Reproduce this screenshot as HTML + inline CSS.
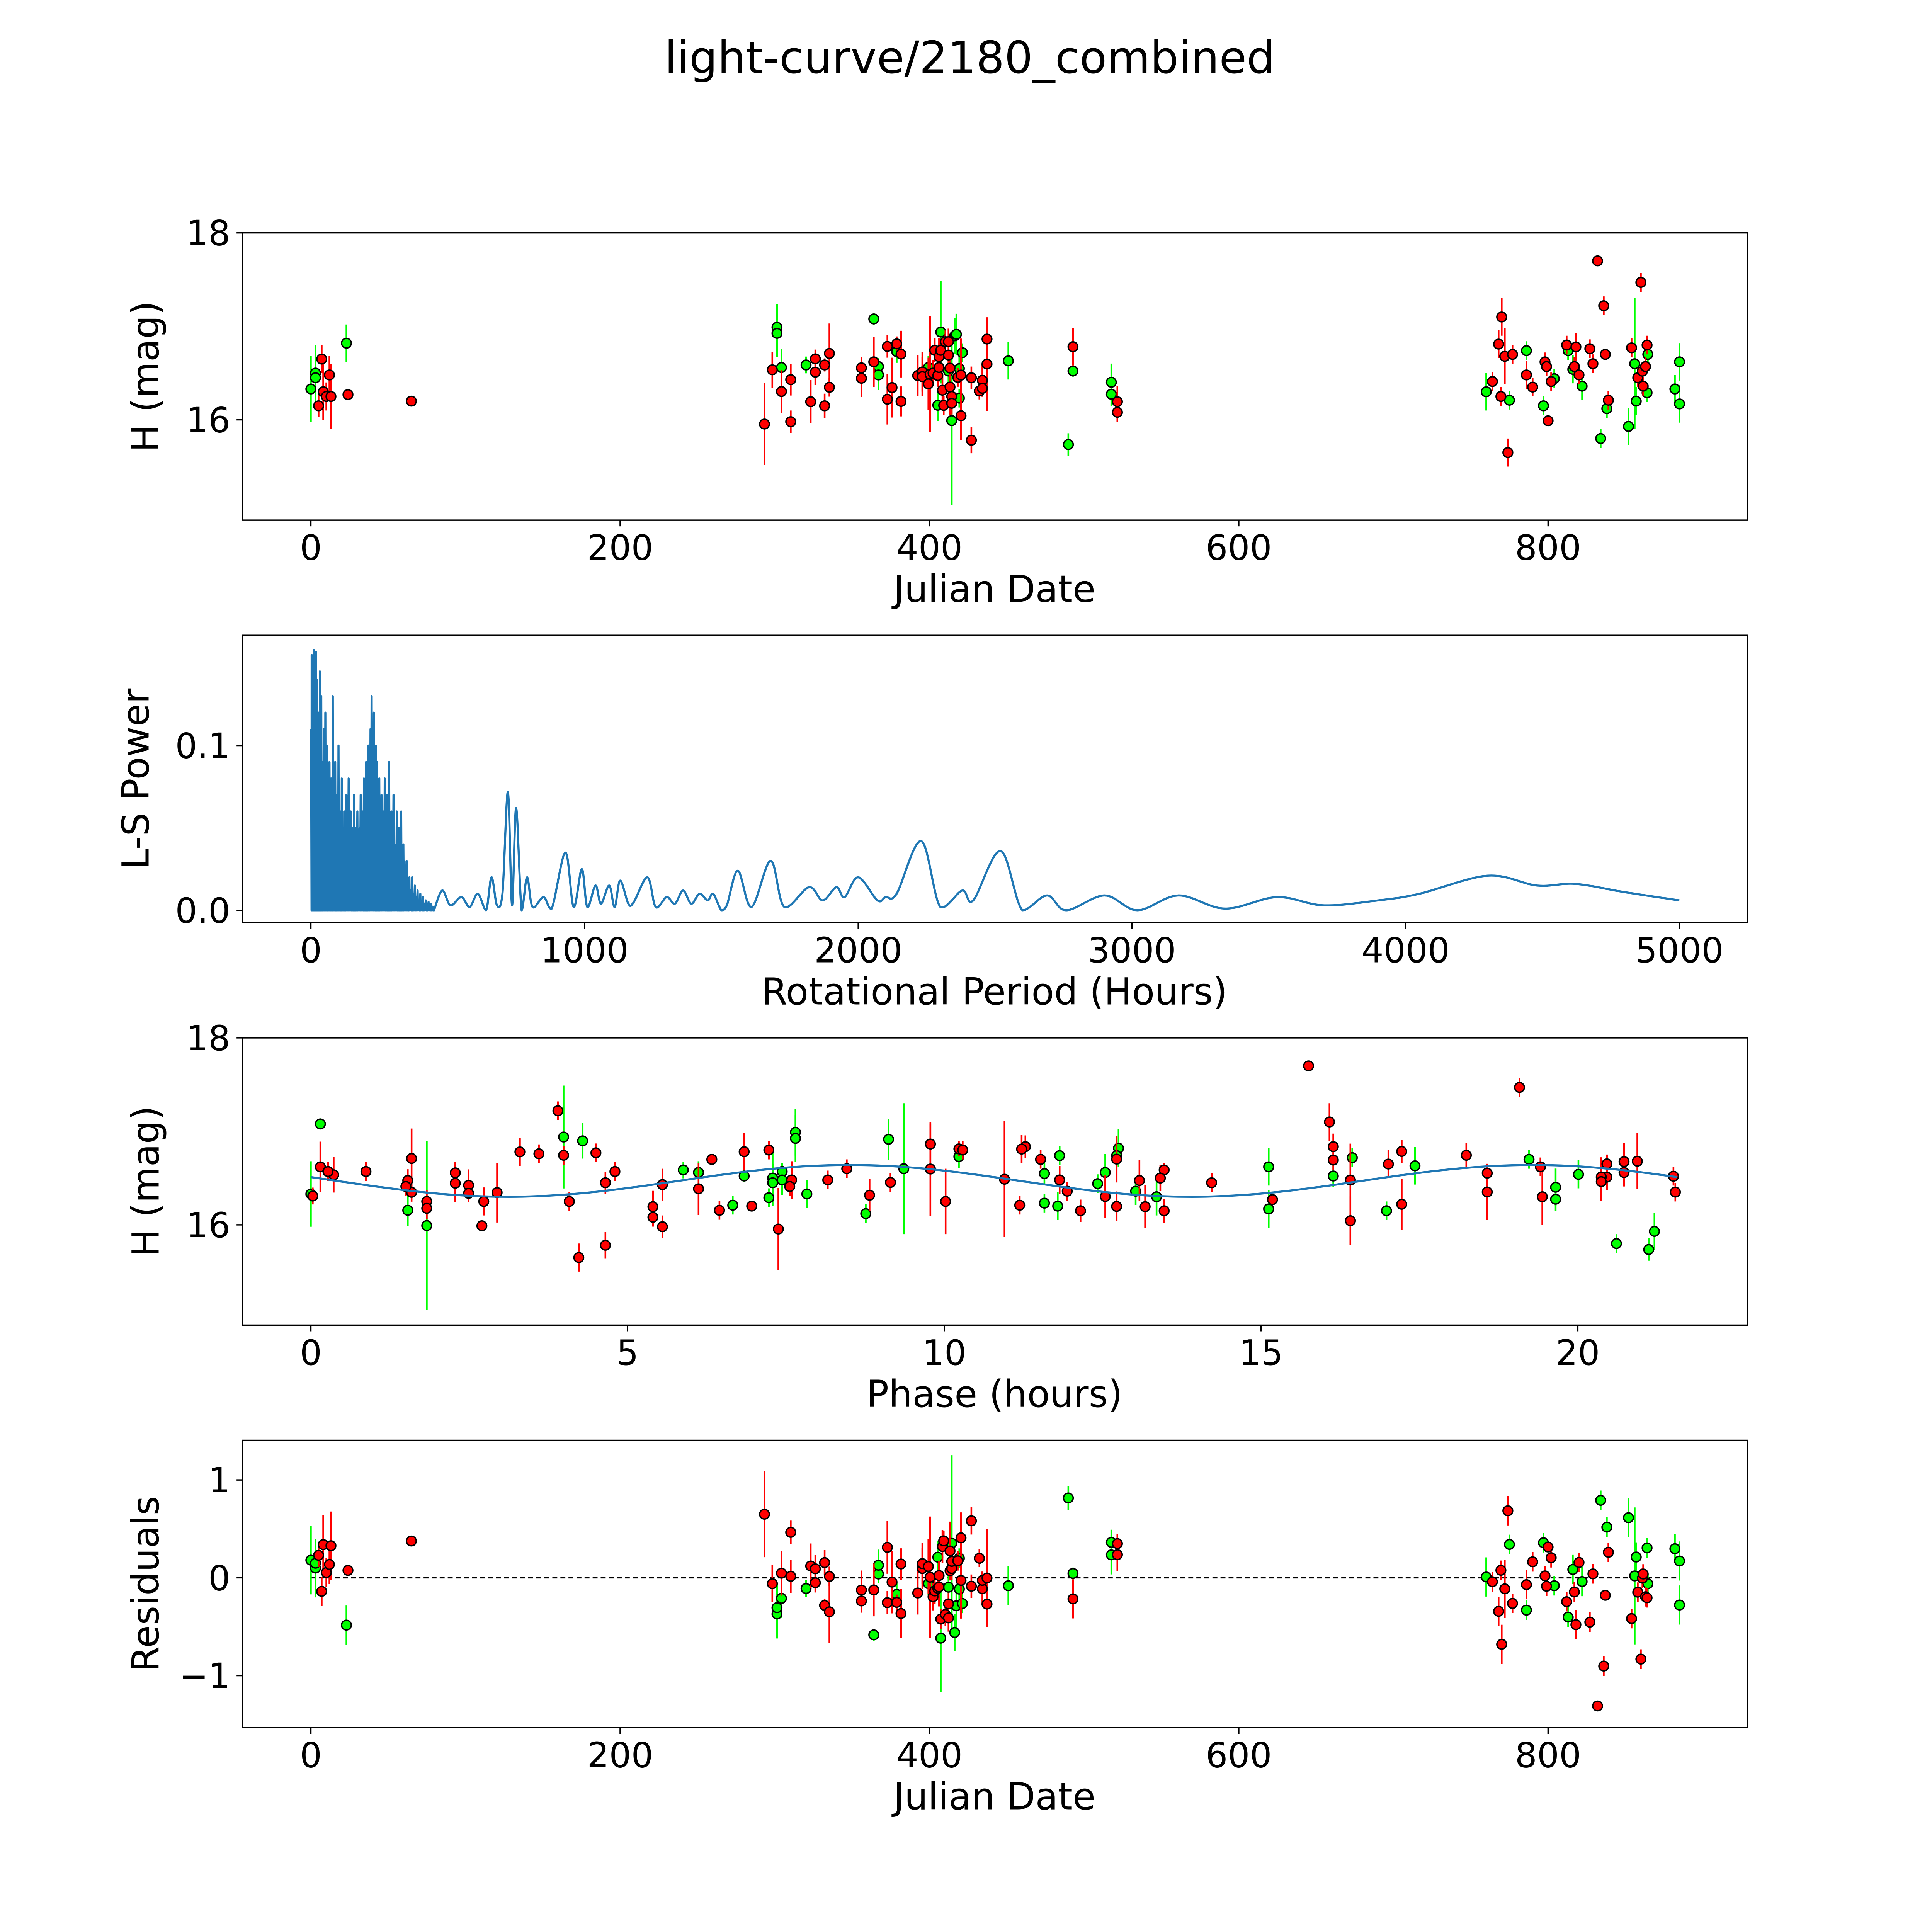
<!DOCTYPE html>
<html><head><meta charset="utf-8"><style>
html,body{margin:0;padding:0;background:#fff;width:100%;height:100%;overflow:hidden;}
svg{display:block;position:absolute;left:0;top:0;width:100vw;height:100vh;font-family:"DejaVu Sans","Liberation Sans",sans-serif;}
</style></head><body>
<svg id="fig" xmlns="http://www.w3.org/2000/svg" viewBox="0 0 1560 1560" preserveAspectRatio="none">
<rect x="0" y="0" width="1560" height="1560" fill="#fff"/>
<text x="783" y="59" font-size="36" text-anchor="middle">light-curve/2180_combined</text>
<g id="layer"></g>
</svg>
<script>
// ---- observations ----
const dates = [0,3,3,5,7,8,10,12,13,23,24,65,
293.3,298.4,301.4,301.4,304.3,304.3,310.3,310.3,320.2,323.2,326.2,326.2,332.2,332.2,335.3,335.3,356,356,364,364,367,367,372.8,372.8,375.8,378.8,378.8,381.6,381.6,392.4,395.4,395.4,399.3,399.3,400.4,402.3,403.4,405.4,405.4,406.2,406.2,407.3,407.3,408.4,409.2,410.3,412.3,412.3,412.3,413.3,413.3,414.4,414.4,414.4,416.3,417.4,418.3,419.3,419.3,420.4,420.4,421.3,427.1,427.1,432.3,434.2,434.2,437.2,437.2,451,489.8,492.8,492.8,517.6,517.6,521.5,521.5,
760,764,768,770,769.5,772,774,775,777,786,786,790,797,798,799,800,802,804,812,813,816,817,818,820,822,827,829,832,834,836,837,838,839,852,854,856,857,858,860,861,861.5,863,864,864.5,864,882,885,885];
const mags = [16.33,16.5,16.45,16.15,16.65,16.3,16.25,16.48,16.25,16.82,16.27,16.2,
15.955,16.535,16.99,16.925,16.56,16.303,16.43,15.98,16.587,16.194,16.652,16.51,16.587,16.15,16.71,16.348,16.556,16.445,17.079,16.62,16.57,16.48,16.785,16.22,16.345,16.812,16.73,16.703,16.197,16.474,16.512,16.462,16.56,16.385,16.488,16.5,16.744,16.156,16.474,16.56,16.676,16.939,16.744,16.317,16.155,16.836,16.836,16.693,16.522,16.553,16.351,15.992,16.25,16.177,16.898,16.915,16.454,16.548,16.232,16.479,16.044,16.718,16.45,15.782,16.308,16.423,16.337,16.864,16.597,16.631,15.736,16.782,16.522,16.402,16.274,16.194,16.081,
16.3,16.41,16.81,17.1,16.25,16.68,15.65,16.21,16.7,16.74,16.48,16.35,16.15,16.62,16.57,15.99,16.41,16.44,16.8,16.74,16.54,16.57,16.78,16.48,16.36,16.76,16.6,17.7,15.8,17.22,16.7,16.12,16.21,15.93,16.77,16.6,16.2,16.45,17.47,16.52,16.36,16.57,16.8,16.7,16.29,16.33,16.62,16.17];
const errs = [0.35,0.3,0.2,0.12,0.15,0.3,0.15,0.2,0.35,0.2,0.05,0.05,
0.44,0.19,0.25,0.25,0.2,0.23,0.17,0.12,0.09,0.23,0.1,0.14,0.07,0.13,0.32,0.1,0.12,0.2,0.06,0.27,0.09,0.16,0.12,0.27,0.32,0.08,0.12,0.25,0.16,0.22,0.21,0.21,0.12,0.28,0.62,0.14,0.13,0.17,0.12,0.15,0.2,0.55,0.1,0.17,0.1,0.12,0.14,0.11,0.12,0.1,0.3,0.9,0.12,0.12,0.19,0.22,0.1,0.12,0.1,0.39,0.26,0.1,0.12,0.14,0.09,0.17,0.09,0.22,0.5,0.2,0.12,0.2,0.06,0.2,0.13,0.17,0.1,
0.2,0.1,0.15,0.2,0.1,0.3,0.15,0.1,0.1,0.1,0.15,0.1,0.1,0.1,0.1,0.05,0.1,0.1,0.1,0.1,0.15,0.1,0.15,0.1,0.15,0.1,0.1,0.05,0.1,0.1,0.05,0.1,0.1,0.2,0.1,0.7,0.15,0.1,0.1,0.1,0.1,0.1,0.1,0.1,0.1,0.15,0.2,0.2];
// filter labels (g = green, r = red), per observation
const filterList = ["g","g","g","r","r","r","r","r","r","g","r","r",
"r","r","g","g","g","r","r","r","g","r","r","r","r","r","r","r","r","r","g","r","g","g","r","r","r","r","g","r","r","r","r","r","g","r","r","r","r","g","r","r","r","g","r","r","r","r","r","r","g","r","r","g","r","r","g","g","r","g","g","r","r","g","r","r","r","r","r","r","r","g","g","r","g","g","g","r","r",
"g","r","r","r","r","r","r","g","r","g","r","r","g","r","r","r","r","g","r","g","g","r","r","r","g","r","r","r","g","r","r","g","r","g","r","g","g","r","r","r","r","r","r","g","g","g","g","g"];
// ---- periodogram: dense short-period spikes ----
const spikePeriod = [1,3,5,7,9,11,13,15,17,19,21,23,25,27,29,31,33,35,38,41,44,47,50,53,56,59,62,65,68,71,74,77,80,83,86,89,92,95,98,101,104,107,110,113,116,119,122,126,130,134,138,142,146,150,154,158,162,166,170,174,178,182,186,190,194,198,202,206,210,214,218,222,226,230,234,238,242,246,250,254,258,262,266,270,274,278,282,286,290,294,298,302,306,310,314,318,322,326,330,334,338,342,346,350,355,360,365,370,375,380,385,390,395,400,405,410,415,420,425,430,435,440,445];
const spikePower = [0.11,0.155,0.09,0.12,0.145,0.158,0.1,0.15,0.08,0.157,0.13,0.14,0.06,0.1,0.12,0.08,0.145,0.05,0.13,0.07,0.09,0.11,0.06,0.12,0.04,0.1,0.07,0.06,0.09,0.05,0.08,0.04,0.13,0.06,0.05,0.09,0.04,0.07,0.03,0.1,0.05,0.06,0.04,0.08,0.05,0.03,0.06,0.05,0.07,0.04,0.08,0.03,0.06,0.05,0.04,0.07,0.03,0.05,0.06,0.04,0.05,0.07,0.03,0.06,0.08,0.05,0.09,0.06,0.1,0.07,0.11,0.13,0.08,0.12,0.06,0.1,0.09,0.05,0.08,0.06,0.07,0.05,0.06,0.08,0.04,0.07,0.05,0.09,0.04,0.06,0.05,0.07,0.04,0.03,0.06,0.04,0.05,0.03,0.06,0.02,0.04,0.03,0.02,0.03,0.015,0.02,0.012,0.02,0.01,0.015,0.008,0.012,0.006,0.01,0.005,0.008,0.004,0.006,0.004,0.005,0.003,0.004,0.002];
// ---- periodogram: smooth long-period part ----
const lsPeriod = [450,480,510,550,580,610,640,660,680,700,720,735,750,770,790,810,850,880,930,960,990,1010,1040,1060,1090,1110,1130,1160,1180,1230,1260,1300,1330,1360,1390,1420,1450,1470,1500,1520,1560,1610,1680,1730,1820,1870,1920,1950,2000,2070,2100,2140,2230,2300,2380,2420,2520,2600,2690,2760,2900,3020,3170,3340,3530,3700,3900,4050,4300,4480,4620,4800,5000];
const lsPower = [0.0,0.012,0.003,0.008,0.002,0.01,0.0,0.02,0.003,0.01,0.072,0.003,0.062,0.0,0.02,0.002,0.008,0.001,0.035,0.002,0.025,0.002,0.015,0.004,0.015,0.002,0.018,0.004,0.005,0.02,0.002,0.008,0.004,0.012,0.004,0.01,0.006,0.01,0.0,0.003,0.024,0.002,0.03,0.002,0.014,0.006,0.014,0.008,0.02,0.006,0.008,0.01,0.042,0.002,0.012,0.006,0.036,0.0,0.009,0.0,0.009,0.0,0.009,0.001,0.008,0.003,0.006,0.01,0.021,0.015,0.016,0.011,0.006];
// ---- model ----
const modelParams = [16.47, 0.17, 8.5]; // mean, amplitude, peak phase
const foldPeriod = [21.57];
const xTicks1 = [0,200,400,600,800];
const yTicks1 = [16,18];
const xTicks2 = [0,1000,2000,3000,4000,5000];
const yTicks2 = [0.0,0.1];
const xTicks3 = [0,5,10,15,20];
const yTicks4 = [-1,0,1];
</script>
<script>
const NS="http://www.w3.org/2000/svg";
const layer=document.getElementById('layer');
function mk(tag,attrs,parent){const e=document.createElementNS(NS,tag);for(const k in attrs)e.setAttribute(k,attrs[k]);(parent||layer).appendChild(e);return e;}
function lin(d0,d1,p0,p1){return v=>p0+(v-d0)*(p1-p0)/(d1-d0);}
const L=196,R=1411;
const panels=[{t:188,b:420},{t:513,b:745},{t:838,b:1070},{t:1163,b:1395}];
const sx1=lin(0,800,251,1250);
const sy1=lin(16,18,339,188);
const sx2=lin(0,5000,251,1356);
const sy2=lin(0,0.1,735,602);
const sx3=lin(0,20,251,1274);
const sy3=lin(16,18,989,838);
const sy4=lin(0,1,1274,1195);
function model(ph){return modelParams[0]+modelParams[1]*Math.cos(2*Math.PI*2*(ph-modelParams[2])/foldPeriod[0]);}
function phaseOf(jd){let p=(jd*24)%foldPeriod[0];return p<0?p+foldPeriod[0]:p;}
const fmt=v=>(v<0?'\u2212'+Math.abs(v):String(v));

function frame(i,name){
  const p=panels[i];
  const g=mk('g',{});
  
  
  const r=mk('rect',{x:L,y:p.t,width:R-L,height:p.b-p.t,fill:'none',stroke:'#000','stroke-width':1.1},g);
  
  
  return g;
}
function xticks(g,i,ticks,sx,lbl){
  const p=panels[i];
  ticks.forEach(t=>{
    const x=sx(t);
    const l=mk('line',{x1:x,x2:x,y1:p.b,y2:p.b+5,stroke:'#000','stroke-width':1.1},g);
    
    
    const tx=mk('text',{x:x,y:p.b+32,'font-size':28,'text-anchor':'middle'},g);
    tx.textContent=fmt(t);
    
    
  });
  const at=mk('text',{x:803,y:p.b+66,'font-size':30,'text-anchor':'middle'},g);
  at.textContent=lbl;
  
  
}
function yticks(g,i,ticks,sy,lbl,f,lx){
  ticks.forEach(t=>{
    const y=sy(t);
    const l=mk('line',{x1:L-5,x2:L,y1:y,y2:y,stroke:'#000','stroke-width':1.1},g);
    
    
    const tx=mk('text',{x:L-10,y:y+10,'font-size':28,'text-anchor':'end'},g);
    tx.textContent=f(t);
    
    
  });
  const p=panels[i];const cy=(p.t+p.b)/2;
  const at=mk('text',{x:lx,y:cy,'font-size':30,'text-anchor':'middle',transform:`rotate(-90 ${lx} ${cy})`},g);
  at.textContent=lbl;
  
  
}
function points(g,xs,ys,es,sx,sy,clipId){
  const cg=mk('g',{'clip-path':`url(#${clipId})`},g);
  ['g','r'].forEach(c=>{
    const col=c==='g'?'#00ff00':'#ff0000';
    for(let k=0;k<xs.length;k++){
      if(filterList[k]!==c)continue;
      const x=sx(xs[k]);
      const l=mk('line',{x1:x,x2:x,y1:sy(ys[k]-es[k]),y2:sy(ys[k]+es[k]),stroke:col,'stroke-width':1.4},cg);
      
      
    }
    for(let k=0;k<xs.length;k++){
      if(filterList[k]!==c)continue;
      const m=mk('circle',{cx:sx(xs[k]),cy:sy(ys[k]),r:3.9,fill:col,stroke:'#000','stroke-width':1.1},cg);
      
      
    }
  });
}
const defs=mk('defs',{});
panels.forEach((p,i)=>{const cp=mk('clipPath',{id:'clip'+i},defs);mk('rect',{x:L,y:p.t,width:R-L,height:p.b-p.t},cp);});

// Panel 1
let g=frame(0,'raw-light-curve-panel');
points(g,dates,mags,errs,sx1,sy1,'clip0');
xticks(g,0,xTicks1,sx1,'Julian Date');
yticks(g,0,yTicks1,sy1,'H (mag)',fmt,128);

// Panel 2
g=frame(1,'periodogram-panel');
let d='M'+sx2(0)+' '+sy2(0.11)+' ';
for(let k=0;k<spikePeriod.length;k++){
  const x=sx2(spikePeriod[k]);
  d+='L'+x.toFixed(2)+' '+sy2(spikePower[k]).toFixed(2)+' L'+(x+0.35).toFixed(2)+' '+sy2(0).toFixed(2)+' ';
}
const px=lsPeriod.map(sx2), py=lsPower.map(sy2);
d+='L'+px[0].toFixed(2)+' '+py[0].toFixed(2)+' ';
for(let k=0;k<px.length-1;k++){
  const x0=px[Math.max(k-1,0)],y0=py[Math.max(k-1,0)],x1=px[k],y1=py[k],x2=px[k+1],y2=py[k+1],x3=px[Math.min(k+2,px.length-1)],y3=py[Math.min(k+2,px.length-1)];
  const c1x=x1+(x2-x0)/6,c1y=y1+(y2-y0)/6,c2x=x2-(x3-x1)/6,c2y=y2-(y3-y1)/6;
  d+=`C${c1x.toFixed(2)} ${Math.min(c1y,735).toFixed(2)} ${c2x.toFixed(2)} ${Math.min(c2y,735).toFixed(2)} ${x2.toFixed(2)} ${y2.toFixed(2)} `;
}
const pl=mk('path',{d:d,fill:'none',stroke:'#1f77b4','stroke-width':1.7,'stroke-linejoin':'round'},g);


xticks(g,1,xTicks2,sx2,'Rotational Period (Hours)');
yticks(g,1,yTicks2,sy2,'L-S Power',v=>v.toFixed(1),120);

// Panel 3
g=frame(2,'phased-light-curve-panel');
const phases=dates.map(phaseOf);
points(g,phases,mags,errs,sx3,sy3,'clip2');
let dm='';
for(let k=0;k<=200;k++){const ph=foldPeriod[0]*k/200;dm+=(k?'L':'M')+sx3(ph).toFixed(2)+' '+sy3(model(ph)).toFixed(2)+' ';}
const ml=mk('path',{d:dm,fill:'none',stroke:'#1f77b4','stroke-width':1.7},g);


xticks(g,2,xTicks3,sx3,'Phase (hours)');
yticks(g,2,yTicks1,sy3,'H (mag)',fmt,128);

// Panel 4
g=frame(3,'residuals-panel');
const zl=mk('line',{x1:sx1(0),x2:sx1(885),y1:sy4(0),y2:sy4(0),stroke:'#000','stroke-width':1.1,'stroke-dasharray':'4 2.5'},g);


const resid=dates.map((jd,k)=>model(phases[k])-mags[k]);
points(g,dates,resid,errs,sx1,sy4,'clip3');
xticks(g,3,xTicks1,sx1,'Julian Date');
yticks(g,3,yTicks4,sy4,'Residuals',fmt,128);
</script>
</body></html>
